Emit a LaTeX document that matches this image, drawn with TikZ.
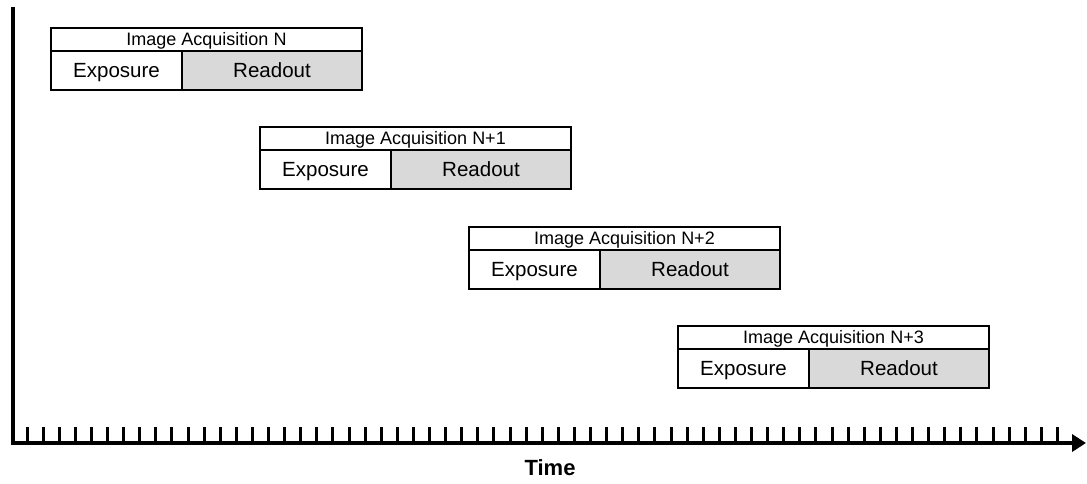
\documentclass[tikz,border=0pt]{standalone}
\usepackage{fontspec}
\setmainfont{Liberation Sans}
\usepackage{xcolor}
\usepackage{tikz}
\usetikzlibrary{positioning,arrows.meta}
\definecolor{readgrey}{HTML}{D9D9D9}

\begin{document}
\begin{tikzpicture}[x=0.75pt,y=-0.75pt,
  acqtitle/.style={draw,line width=0.9pt,anchor=north west,inner sep=0pt,outer sep=0pt,minimum width=233.25pt,minimum height=17.25pt,text height=9.7pt,text depth=0pt,font=\fontsize{13.5}{15}\selectfont},
  expo/.style={draw,line width=0.9pt,inner sep=0pt,outer sep=0pt,minimum width=98.25pt,minimum height=29.25pt,text height=11pt,text depth=0pt,font=\fontsize{15.4}{17}\selectfont},
  readout/.style={expo,fill=readgrey,minimum width=135pt},
  axis/.style={line width=3pt,line join=miter,-{Triangle[length=10.5pt,width=12.75pt]}},
  tickmark/.style={line width=2.25pt}
]
\useasboundingbox (0,0) rectangle (1087,483);

% time axis
\coordinate (top) at (13,7);
\coordinate (tend) at (1086,443);
\foreach \k in {0,...,64}
  \draw[tickmark] ({27+16.1*\k},427) -- ({27+16.1*\k},443);
\draw[axis] (top) |- (tend);
\node[font=\fontsize{16.5}{18}\selectfont\bfseries] (time) at (550,468) {Time};

% acquisitions
\node[acqtitle] (t1) at (51,28) {Image Acquisition N};
\node[expo,below=0pt of t1.south west,anchor=north west] (e1) {Exposure};
\node[readout,right=0pt of e1] (r1) {Readout};

\node[acqtitle] (t2) at (260,127) {Image Acquisition N+1};
\node[expo,below=0pt of t2.south west,anchor=north west] (e2) {Exposure};
\node[readout,right=0pt of e2] (r2) {Readout};

\node[acqtitle] (t3) at (469,227) {Image Acquisition N+2};
\node[expo,below=0pt of t3.south west,anchor=north west] (e3) {Exposure};
\node[readout,right=0pt of e3] (r3) {Readout};

\node[acqtitle] (t4) at (678,326) {Image Acquisition N+3};
\node[expo,below=0pt of t4.south west,anchor=north west] (e4) {Exposure};
\node[readout,right=0pt of e4] (r4) {Readout};
\end{tikzpicture}
\end{document}
